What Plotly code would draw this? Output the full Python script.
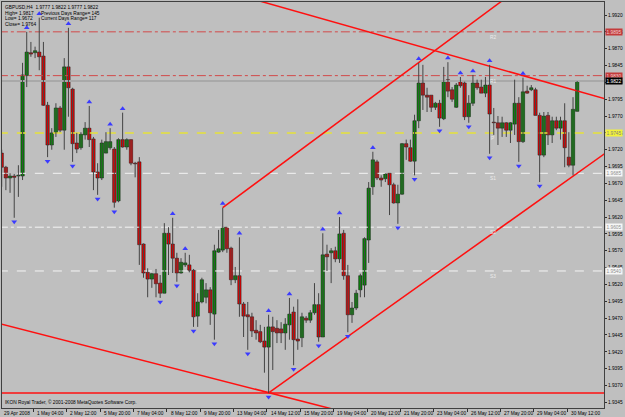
import plotly.graph_objects as go

# ---------------- data (GBPUSD H4) ----------------
open_ = [1.9715,1.9694,1.9678,1.9681,1.9681,1.9681,1.9830,1.9864,1.9864,1.9865,
         1.9859,1.9786,1.9727,1.9745,1.9782,1.9749,1.9843,1.9810,1.9730,1.9723,
         1.9742,1.9752,1.9736,1.9687,1.9678,1.9715,1.9723,1.9721,1.9644,1.9735,
         1.9724,1.9735,1.9700,1.9702,1.9580,1.9538,1.9528,1.9536,1.9522,1.9507,
         1.9596,1.9580,1.9559,1.9537,1.9549,1.9549,1.9541,1.9473,1.9494,1.9501,
         1.9512,1.9476,1.9568,1.9571,1.9605,1.9574,1.9527,1.9533,1.9491,1.9475,
         1.9472,1.9452,1.9450,1.9436,1.9427,1.9457,1.9455,1.9454,1.9448,1.9460,
         1.9479,1.9439,1.9441,1.9470,1.9467,1.9478,1.9490,1.9442,1.9565,1.9567,
         1.9570,1.9558,1.9596,1.9533,1.9475,1.9485,1.9512,1.9519,1.9586,1.9665,
         1.9702,1.9678,1.9677,1.9685,1.9668,1.9641,1.9654,1.9729,1.9723,1.9703,
         1.9763,1.9819,1.9801,1.9801,1.9783,1.9789,1.9766,1.9824,1.9809,1.9783,
         1.9821,1.9819,1.9769,1.9789,1.9819,1.9813,1.9804,1.9816,1.9761,1.9760,
         1.9752,1.9760,1.9749,1.9758,1.9789,1.9732,1.9807,1.9809,1.9809,1.9771,
         1.9712,1.9771,1.9742,1.9763,1.9752,1.9763,1.9709,1.9697,1.9777]
high = [1.9720,1.9696,1.9685,1.9684,1.9697,1.9849,1.9895,1.9880,1.9873,1.9916,
        1.9880,1.9791,1.9752,1.9789,1.9785,1.9856,1.9901,1.9812,1.9745,1.9746,
        1.9761,1.9785,1.9739,1.9700,1.9735,1.9746,1.9752,1.9724,1.9737,1.9775,
        1.9737,1.9735,1.9702,1.9709,1.9581,1.9544,1.9537,1.9543,1.9534,1.9611,
        1.9605,1.9619,1.9567,1.9559,1.9567,1.9564,1.9543,1.9507,1.9530,1.9522,
        1.9516,1.9579,1.9601,1.9634,1.9605,1.9576,1.9546,1.9590,1.9494,1.9494,
        1.9478,1.9467,1.9460,1.9457,1.9475,1.9472,1.9467,1.9464,1.9470,1.9500,
        1.9487,1.9498,1.9478,1.9473,1.9482,1.9522,1.9507,1.9596,1.9579,1.9574,
        1.9576,1.9620,1.9601,1.9549,1.9494,1.9512,1.9536,1.9590,1.9672,1.9717,
        1.9705,1.9682,1.9685,1.9685,1.9671,1.9668,1.9730,1.9735,1.9735,1.9772,
        1.9849,1.9846,1.9812,1.9801,1.9791,1.9794,1.9843,1.9850,1.9813,1.9819,
        1.9828,1.9821,1.9801,1.9831,1.9824,1.9824,1.9828,1.9846,1.9782,1.9770,
        1.9769,1.9761,1.9761,1.9824,1.9798,1.9827,1.9815,1.9816,1.9812,1.9775,
        1.9776,1.9776,1.9769,1.9769,1.9769,1.9789,1.9746,1.9798,1.9822]
low = [1.9665,1.9660,1.9656,1.9619,1.9650,1.9675,1.9813,1.9858,1.9856,1.9838,
       1.9785,1.9709,1.9720,1.9739,1.9746,1.9720,1.9769,1.9702,1.9715,1.9720,
       1.9735,1.9724,1.9660,1.9653,1.9675,1.9715,1.9720,1.9634,1.9642,1.9723,
       1.9720,1.9697,1.9679,1.9549,1.9530,1.9501,1.9515,1.9501,1.9500,1.9507,
       1.9534,1.9537,1.9524,1.9536,1.9546,1.9538,1.9457,1.9457,1.9492,1.9492,
       1.9460,1.9438,1.9567,1.9568,1.9567,1.9519,1.9522,1.9472,1.9442,1.9423,
       1.9442,1.9438,1.9433,1.9389,1.9359,1.9393,1.9433,1.9433,1.9423,1.9438,
       1.9400,1.9423,1.9427,1.9463,1.9463,1.9475,1.9435,1.9442,1.9540,1.9522,
       1.9553,1.9552,1.9527,1.9449,1.9463,1.9482,1.9501,1.9501,1.9552,1.9653,
       1.9675,1.9665,1.9672,1.9623,1.9640,1.9610,1.9653,1.9705,1.9702,1.9682,
       1.9752,1.9779,1.9776,1.9776,1.9779,1.9754,1.9764,1.9798,1.9791,1.9782,
       1.9812,1.9764,1.9760,1.9785,1.9809,1.9804,1.9798,1.9714,1.9742,1.9727,
       1.9739,1.9739,1.9730,1.9742,1.9702,1.9730,1.9803,1.9807,1.9771,1.9672,
       1.9709,1.9727,1.9730,1.9749,1.9735,1.9694,1.9694,1.9682,1.9777]
close = [1.9694,1.9678,1.9681,1.9679,1.9682,1.9831,1.9865,1.9862,1.9867,1.9858,
         1.9786,1.9727,1.9745,1.9782,1.9749,1.9843,1.9812,1.9729,1.9721,1.9743,
         1.9752,1.9735,1.9687,1.9678,1.9730,1.9732,1.9732,1.9642,1.9735,1.9724,
         1.9735,1.9700,1.9699,1.9579,1.9537,1.9528,1.9536,1.9521,1.9507,1.9596,
         1.9580,1.9559,1.9537,1.9553,1.9552,1.9541,1.9472,1.9494,1.9527,1.9512,
         1.9478,1.9570,1.9573,1.9605,1.9573,1.9527,1.9533,1.9491,1.9473,1.9472,
         1.9451,1.9448,1.9435,1.9427,1.9457,1.9450,1.9448,1.9448,1.9461,1.9476,
         1.9438,1.9436,1.9472,1.9467,1.9478,1.9490,1.9442,1.9564,1.9561,1.9570,
         1.9558,1.9595,1.9533,1.9475,1.9485,1.9507,1.9533,1.9588,1.9663,1.9705,
         1.9678,1.9675,1.9684,1.9668,1.9641,1.9654,1.9729,1.9724,1.9703,1.9763,
         1.9819,1.9801,1.9798,1.9783,1.9789,1.9767,1.9822,1.9807,1.9795,1.9816,
         1.9815,1.9769,1.9789,1.9819,1.9812,1.9804,1.9816,1.9773,1.9760,1.9752,
         1.9760,1.9749,1.9760,1.9789,1.9732,1.9806,1.9804,1.9812,1.9771,1.9712,
         1.9770,1.9742,1.9763,1.9752,1.9763,1.9723,1.9697,1.9780,1.9822]
bars = list(range(len(close)))

fractal_up = [6, 9, 16, 21, 26, 29, 41, 44, 53, 57, 64, 69, 77, 81, 89, 100,
              107, 110, 113, 117, 125]
fractal_down = [3, 11, 17, 23, 27, 38, 42, 46, 51, 59, 64, 70, 76, 83, 95, 99,
                105, 112, 117, 124, 129]

x_tick_bars = [0, 8, 16, 24, 32, 40, 48, 56, 64, 72, 80, 88, 96, 104, 112, 120, 128, 136]
x_tick_labels = ["29 Apr 2008", "1 May 04:00", "2 May 12:00", "5 May 20:00", "7 May 04:00",
                 "8 May 12:00", "9 May 20:00", "13 May 04:00", "14 May 12:00", "15 May 20:00",
                 "19 May 04:00", "20 May 12:00", "21 May 20:00", "23 May 04:00", "26 May 12:00",
                 "27 May 20:00", "29 May 04:00", "30 May 12:00"]
y_ticks = [1.9345, 1.9370, 1.9395, 1.9420, 1.9445, 1.9470, 1.9495, 1.9520, 1.9545,
           1.9570, 1.9595, 1.9620, 1.9645, 1.9670, 1.9695, 1.9720, 1.9745, 1.9770,
           1.9795, 1.9820, 1.9845, 1.9870, 1.9895, 1.9920]

# trend lines: (bar, price) end points
line_down_lower = ([0, 80], [1.9461, 1.9334])
line_support = ([0, 145], [1.9359, 1.9359])
line_channel_low = ([64, 145], [1.9359, 1.9716])
line_channel_high = ([53, 125], [1.9634, 1.9964])
line_resist = ([60, 145], [1.9944, 1.9795])

pivot_names = ["R2", "R1", "P", "S1", "S2", "S3"]
pivot_values = [1.9895, 1.9830, 1.9745, 1.9685, 1.9605, 1.9540]
bid_price = 1.9822

header_lines = ["GBPUSD,H4  1.9777 1.9822 1.9777 1.9822", "High= 1.9817", "Low= 1.9672", "Close= 1.9764"]
header_right = ["Previous Days Range= 145", "Current Days Range= 117"]

# ---------------- figure ----------------
BG = "#bfbfbf"
FONT = "Liberation Sans, Arial, sans-serif"
FS = 4.8
fig = go.Figure()

# pivot / price lines
pivot_style = {"R2": ("#d24a4a", "dashdot", 1), "R1": ("#d24a4a", "dashdot", 1),
               "P": ("#e6e23a", "dash", 1.5), "S1": ("#f4f4f4", "dash", 1),
               "S2": ("#f4f4f4", "dashdot", 1), "S3": ("#f4f4f4", "dash", 1)}
for name, val in zip(pivot_names, pivot_values):
    c, d, w = pivot_style[name]
    fig.add_trace(go.Scatter(x=[-5, 150], y=[val, val], mode="lines",
                             line=dict(color=c, dash=d, width=w), hoverinfo="skip"))
fig.add_trace(go.Scatter(x=[-5, 150], y=[bid_price, bid_price], mode="lines",
                         line=dict(color="#a9a9a9", width=2), hoverinfo="skip"))

# trend lines
for xs, ys in [line_down_lower, line_support, line_channel_low, line_channel_high, line_resist]:
    fig.add_trace(go.Scatter(x=xs, y=ys, mode="lines", line=dict(color="#ff1010", width=1.5),
                             hoverinfo="skip"))

# candles: wicks then bodies
wx, wy = [], []
for i in bars:
    wx += [i, i, None]
    wy += [low[i], high[i], None]
fig.add_trace(go.Scatter(x=wx, y=wy, mode="lines", line=dict(color="#444444", width=1),
                         hoverinfo="skip"))
body_base = [min(o, c) for o, c in zip(open_, close)]
body_len = [max(abs(c - o), 0.00008) for o, c in zip(open_, close)]
body_col = ["#009000" if c >= o else "#f00000" for o, c in zip(open_, close)]
fig.add_trace(go.Bar(x=bars, y=body_len, base=body_base, width=0.8,
                     marker=dict(color=body_col, line=dict(color="#101010", width=0.5)),
                     hoverinfo="skip"))

fig.add_trace(go.Scatter(x=fractal_up, y=[high[i] + 0.0006 for i in fractal_up], mode="markers",
                         marker=dict(symbol="triangle-up", size=5, color="#3b3bff"), hoverinfo="skip"))
fig.add_trace(go.Scatter(x=fractal_down, y=[low[i] - 0.0006 for i in fractal_down], mode="markers",
                         marker=dict(symbol="triangle-down", size=5, color="#3b3bff"), hoverinfo="skip"))

ann = []
small = dict(family=FONT, size=FS, color="#000000")
for b, t in zip(x_tick_bars, x_tick_labels):
    ann.append(dict(x=max(b, 0.1), y=0, xref="x", yref="paper", text=t, showarrow=False,
                    xanchor="left", yanchor="top", yshift=-1, font=small))
for k, t in enumerate(header_lines):
    ann.append(dict(x=0, y=1, xref="paper", yref="paper", text=t, showarrow=False,
                    xanchor="left", yanchor="top", xshift=1, yshift=-1 - 5.7 * k, font=small))
for k, t in enumerate(header_right):
    ann.append(dict(x=0, y=1, xref="paper", yref="paper", text=t, showarrow=False,
                    xanchor="left", yanchor="top", xshift=37, yshift=-6.7 - 5.7 * k, font=small))
ann.append(dict(x=0, y=0, xref="paper", yref="paper", text="IKON Royal Trader, © 2001-2008 MetaQuotes Software Corp.",
                showarrow=False, xanchor="left", yanchor="bottom", xshift=1, yshift=1, font=small))
for name, val in zip(pivot_names, pivot_values):
    ann.append(dict(x=117.8, y=val, xref="x", yref="y", text=name, showarrow=False,
                    yanchor="top", yshift=-1, font=dict(family=FONT, size=FS, color="#ececec")))
label_style = {"R2": ("#c43b3b", "#f0d0d0"), "R1": ("#c43b3b", "#f0d0d0"), "P": ("#f2f23a", "#808080"),
               "S1": ("#f6f6f6", "#909090"), "S2": ("#f6f6f6", "#909090"), "S3": ("#f6f6f6", "#909090")}
for name, val in zip(pivot_names, pivot_values):
    bg, fc = label_style[name]
    ann.append(dict(x=1, y=val, xref="paper", yref="y", text=f"{val:.4f}", showarrow=False,
                    xanchor="left", xshift=1, bgcolor=bg, borderpad=0.5,
                    font=dict(family=FONT, size=FS, color=fc)))
ann.append(dict(x=1, y=bid_price, xref="paper", yref="y", text=f"{bid_price:.4f}", showarrow=False,
                xanchor="left", xshift=1, bgcolor="#000000", borderpad=0.5,
                font=dict(family=FONT, size=FS, color="#ffffff")))

fig.update_layout(
    width=625, height=417, margin=dict(l=2, r=21, t=2, b=9),
    paper_bgcolor=BG, plot_bgcolor=BG, showlegend=False, annotations=ann, barmode="overlay",
    xaxis=dict(range=[0.07, 144.43], showgrid=False, zeroline=False,
               tickvals=[b - 0.4 for b in x_tick_bars], showticklabels=False, ticks="outside",
               ticklen=3, tickcolor="#303030", showline=True, mirror=True, linecolor="#404040",
               linewidth=1),
    yaxis=dict(range=[1.93366, 1.99393], side="right", showgrid=False, zeroline=False,
               tickvals=y_ticks, ticktext=[f"{v:.4f}" for v in y_ticks], ticks="outside",
               ticklen=2, tickcolor="#303030", tickfont=dict(family=FONT, size=FS, color="#000000"),
               showline=True, mirror=True, linecolor="#404040", linewidth=1),
)

fig.write_html("out.html")
